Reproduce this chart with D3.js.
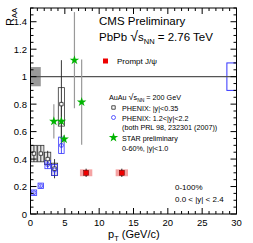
<!DOCTYPE html>
<html><head><meta charset="utf-8">
<script src="https://cdn.jsdelivr.net/npm/d3@7"></script>
<style>body{margin:0;background:#fff}svg{display:block;font-family:"Liberation Sans",Arial,sans-serif}</style>
</head><body>
<script>
// CMS prompt J/psi
const cmsPt = [8.1, 13.3];
const cmsRaa = [0.30, 0.30];
const cmsStat = [0.03, 0.03];
const cmsSyst = [0.025, 0.025];
const cmsBinHalf = [0.9, 0.9];
// PHENIX |y|<0.35
const phxMidPt = [0.5, 1.5, 2.5, 3.5, 4.5];
const phxMidRaa = [0.44, 0.44, 0.40, 0.33, 0.80];
const phxMidStat = [0.06, 0.06, 0.06, 0.07, 0.32];
const phxMidSystLo = [0.06, 0.06, 0.04, 0.05, 0.16];
const phxMidSystHi = [0.06, 0.06, 0.05, 0.04, 0.12];
// PHENIX 1.2<|y|<2.2
const phxFwdPt = [0.5, 1.5, 2.5, 3.5, 4.5];
const phxFwdRaa = [0.155, 0.205, 0.36, 0.32, 0.50];
const phxFwdStat = [0.01, 0.01, 0.03, 0.04, 0.06];
const phxFwdSyst = [0.02, 0.02, 0.03, 0.04, 0.06];
// STAR preliminary
const starPt = [3.4, 4.5, 4.9, 6.4, 7.45];
const starRaa = [0.675, 0.675, 0.545, 1.12, 0.815];
const starErr = [0.125, 0.125, 0.03, 0.35, 0.31];
const xTicks = [0, 5, 10, 15, 20, 25, 30];
const yTicks = [0, 0.2, 0.4, 0.6, 0.8, 1, 1.2, 1.4];

const W = 253, H = 243;
const svg = d3.select("body").append("svg").attr("width", W).attr("height", H);
const x = d3.scaleLinear().domain([0, 30]).range([30.5, 236.5]);
const y = d3.scaleLinear().domain([0, 1.5]).range([214, 8]);

// global uncertainty boxes
svg.append("rect").attr("x", x(0)).attr("width", x(1.5) - x(0))
  .attr("y", y(1.07)).attr("height", y(0.93) - y(1.07)).attr("fill", "#999");
svg.append("rect").attr("x", x(28.6)).attr("width", x(30) - x(28.6))
  .attr("y", y(1.1)).attr("height", y(0.9) - y(1.1)).attr("fill", "none").attr("stroke", "#3333ff").attr("stroke-width", 1);
// line at 1
svg.append("line").attr("x1", x(0)).attr("x2", x(30)).attr("y1", y(1)).attr("y2", y(1))
  .attr("stroke", "#555").attr("stroke-width", 1.2);

// PHENIX mid syst boxes
phxMidPt.forEach((p, i) => {
  svg.append("rect").attr("x", x(p - 0.45)).attr("width", x(p + 0.45) - x(p - 0.45))
    .attr("y", y(phxMidRaa[i] + phxMidSystHi[i])).attr("height", y(phxMidRaa[i] - phxMidSystLo[i]) - y(phxMidRaa[i] + phxMidSystHi[i]))
    .attr("fill", i < 4 ? "#d6d6d6" : "none").attr("fill-opacity", 0.6).attr("stroke", "#333").attr("stroke-width", 0.8);
});
// PHENIX fwd syst boxes
phxFwdPt.forEach((p, i) => {
  svg.append("rect").attr("x", x(p - 0.4)).attr("width", x(p + 0.4) - x(p - 0.4))
    .attr("y", y(phxFwdRaa[i] + phxFwdSyst[i])).attr("height", y(phxFwdRaa[i] - phxFwdSyst[i]) - y(phxFwdRaa[i] + phxFwdSyst[i]))
    .attr("fill", "none").attr("stroke", "#3333ff").attr("stroke-width", 0.8);
});
// STAR errors
starPt.forEach((p, i) => {
  svg.append("line").attr("x1", x(p)).attr("x2", x(p)).attr("y1", y(starRaa[i] - starErr[i])).attr("y2", y(Math.min(1.5, starRaa[i] + starErr[i])))
    .attr("stroke", "#999").attr("stroke-width", 1.2);
});
// PHENIX errors
phxMidPt.forEach((p, i) => {
  svg.append("line").attr("x1", x(p)).attr("x2", x(p)).attr("y1", y(phxMidRaa[i] - phxMidStat[i])).attr("y2", y(phxMidRaa[i] + phxMidStat[i]))
    .attr("stroke", "#222").attr("stroke-width", 0.9);
});
phxFwdPt.forEach((p, i) => {
  svg.append("line").attr("x1", x(p)).attr("x2", x(p)).attr("y1", y(phxFwdRaa[i] - phxFwdStat[i])).attr("y2", y(phxFwdRaa[i] + phxFwdStat[i]))
    .attr("stroke", "#3333ff").attr("stroke-width", 0.9);
});
// CMS
cmsPt.forEach((p, i) => {
  svg.append("rect").attr("x", x(p - cmsBinHalf[i])).attr("width", x(p + cmsBinHalf[i]) - x(p - cmsBinHalf[i]))
    .attr("y", y(cmsRaa[i] + cmsSyst[i])).attr("height", y(cmsRaa[i] - cmsSyst[i]) - y(cmsRaa[i] + cmsSyst[i]))
    .attr("fill", "#f5a3a3");
  svg.append("line").attr("x1", x(p)).attr("x2", x(p)).attr("y1", y(cmsRaa[i] - cmsStat[i])).attr("y2", y(cmsRaa[i] + cmsStat[i]))
    .attr("stroke", "#222").attr("stroke-width", 1);
  svg.append("rect").attr("x", x(p) - 2.5).attr("y", y(cmsRaa[i]) - 2.5).attr("width", 5).attr("height", 5)
    .attr("fill", "#ee0000").attr("stroke", "#600").attr("stroke-width", 0.5);
});
// markers
const sqSym = d3.symbol().type(d3.symbolSquare).size(12);
const starSym = d3.symbol().type(d3.symbolStar).size(28);
phxMidPt.forEach((p, i) => {
  svg.append("path").attr("d", sqSym).attr("transform", `translate(${x(p)},${y(phxMidRaa[i])})`)
    .attr("fill", "#fff").attr("stroke", "#222").attr("stroke-width", 0.8);
});
phxFwdPt.forEach((p, i) => {
  svg.append("circle").attr("cx", x(p)).attr("cy", y(phxFwdRaa[i])).attr("r", 2)
    .attr("fill", "none").attr("stroke", "#3333ff").attr("stroke-width", 0.8);
});
starPt.forEach((p, i) => {
  svg.append("path").attr("d", starSym).attr("transform", `translate(${x(p)},${y(starRaa[i])})`)
    .attr("fill", "#00b400");
});

// frame and ticks
const g = svg.append("g").attr("stroke", "#000").attr("stroke-width", 1);
g.append("rect").attr("x", x(0)).attr("y", y(1.5)).attr("width", x(30) - x(0)).attr("height", y(0) - y(1.5)).attr("fill", "none");
d3.range(0, 30.01, 1).forEach(v => {
  const L = v % 5 === 0 ? 6 : 3;
  g.append("line").attr("x1", x(v)).attr("x2", x(v)).attr("y1", y(0)).attr("y2", y(0) - L);
  g.append("line").attr("x1", x(v)).attr("x2", x(v)).attr("y1", y(1.5)).attr("y2", y(1.5) + L);
});
d3.range(0, 1.501, 0.05).forEach(v => {
  const major = Math.abs(v / 0.2 - Math.round(v / 0.2)) < 1e-6;
  const L = major ? 6 : 3;
  g.append("line").attr("y1", y(v)).attr("y2", y(v)).attr("x1", x(0)).attr("x2", x(0) + L);
  g.append("line").attr("y1", y(v)).attr("y2", y(v)).attr("x1", x(30)).attr("x2", x(30) - L);
});
// tick labels
svg.selectAll(".xl").data(xTicks).enter().append("text").attr("x", d => x(d)).attr("y", 226)
  .attr("text-anchor", "middle").attr("font-size", 9.5).text(d => d);
svg.selectAll(".yl").data(yTicks).enter().append("text").attr("x", 27).attr("y", d => y(d) + 3.5)
  .attr("text-anchor", "end").attr("font-size", 9.5).text(d => d === 0 ? "0" : d3.format(".1f")(d).replace(/\.0$/, ""));

// axis titles
const xt = svg.append("text").attr("x", 236).attr("y", 238).attr("text-anchor", "end").attr("font-size", 11);
xt.append("tspan").text("p");
xt.append("tspan").attr("font-size", 7.5).attr("dy", 2.5).text("T");
xt.append("tspan").attr("dy", -2.5).text(" (GeV/c)");
// fix: p_T label starts near x=108
xt.attr("text-anchor", "start").attr("x", 108);
const yt = svg.append("text").attr("transform", "translate(14,8) rotate(-90)").attr("text-anchor", "end").attr("font-size", 11);
yt.append("tspan").text("R");
yt.append("tspan").attr("font-size", 7.5).attr("dy", 2.5).text("AA");

// CMS labels
svg.append("text").attr("x", 99).attr("y", 25).attr("font-size", 11.5).text("CMS Preliminary");
const pb = svg.append("text").attr("x", 99).attr("y", 41).attr("font-size", 11.5);
pb.append("tspan").text("PbPb ");
pb.append("tspan").attr("font-size", 14).text("\u221A");
pb.append("tspan").text("s");
pb.append("tspan").attr("font-size", 7.5).attr("dy", 2.5).text("NN");
pb.append("tspan").attr("dy", -2.5).text(" = 2.76 TeV");
svg.append("rect").attr("x", 103).attr("y", 58.5).attr("width", 5).attr("height", 5).attr("fill", "#ee0000");
svg.append("text").attr("x", 117).attr("y", 64).attr("font-size", 8).text("Prompt J/\u03C8");

const fs = 7.2;
const au = svg.append("text").attr("x", 109).attr("y", 100).attr("font-size", fs);
au.append("tspan").text("AuAu ");
au.append("tspan").attr("font-size", 9).text("\u221A");
au.append("tspan").text("s");
au.append("tspan").attr("font-size", 5).attr("dy", 1.8).text("NN");
au.append("tspan").attr("dy", -1.8).text(" = 200 GeV");
svg.append("path").attr("d", sqSym).attr("transform", "translate(113.5,107.5)").attr("fill", "#fff").attr("stroke", "#222").attr("stroke-width", 0.8);
svg.append("text").attr("x", 122).attr("y", 110.5).attr("font-size", fs).text("PHENIX: |y|<0.35");
svg.append("circle").attr("cx", 113.5).attr("cy", 117.5).attr("r", 2).attr("fill", "none").attr("stroke", "#3333ff").attr("stroke-width", 0.8);
svg.append("text").attr("x", 122).attr("y", 120.5).attr("font-size", fs).text("PHENIX: 1.2<|y|<2.2");
svg.append("text").attr("x", 122).attr("y", 130).attr("font-size", fs).text("(both PRL 98, 232301 (2007))");
svg.append("path").attr("d", starSym).attr("transform", "translate(113.5,137.5)").attr("fill", "#00b400");
svg.append("text").attr("x", 122).attr("y", 140.5).attr("font-size", fs).text("STAR preliminary");
svg.append("text").attr("x", 122).attr("y", 151).attr("font-size", fs).text("0-60%, |y|<1.0");

svg.append("text").attr("x", 175).attr("y", 190).attr("font-size", 8).text("0-100%");
svg.append("text").attr("x", 175).attr("y", 201.5).attr("font-size", 8).text("0.0 < |y| < 2.4");
</script>
</body></html>
